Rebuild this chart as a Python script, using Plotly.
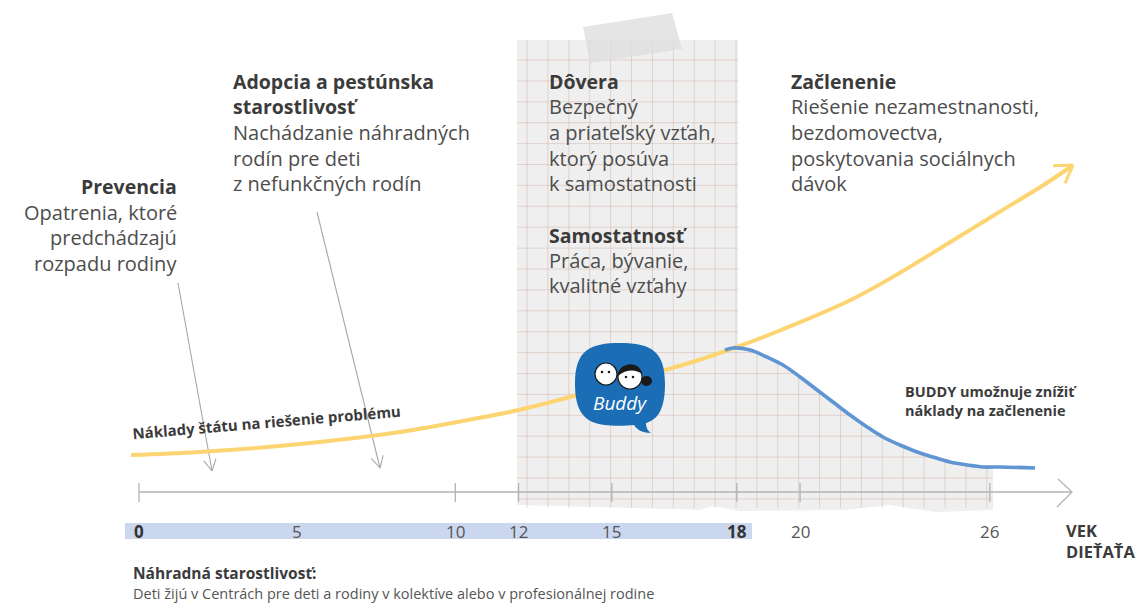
import numpy as np
import plotly.graph_objects as go

# ---------------- data ----------------
# state costs curve (age on the child's-age axis, cost index above the axis line)
YELLOW_AGE = [-0.25, 1.9, 5.1, 8.25, 10.4, 12.0, 14.1, 16.2, 17.7, 18.9, 20.3, 22.5, 24.1, 25.6, 27.2, 28.5, 29.5]
YELLOW_COST = [3.7, 4.0, 4.8, 6.0, 7.2, 8.2, 9.9, 11.8, 13.2, 14.5, 16.2, 19.2, 22.0, 24.9, 28.0, 30.5, 32.6]
# costs with BUDDY
BLUE_AGE = [18.53, 18.78, 19.32, 19.85, 20.36, 20.90, 21.44, 21.94, 22.48, 23.02, 23.52,
            24.06, 24.60, 25.10, 25.64, 26.18, 26.68, 27.22, 28.33]
BLUE_COST = [14.2, 14.4, 14.2, 13.5, 12.7, 11.5, 10.2, 9.0, 7.7, 6.5, 5.5,
             4.7, 4.0, 3.5, 3.0, 2.7, 2.5, 2.5, 2.4]
# axis ticks
AGE_TICKS = [0, 5, 10, 12, 15, 18, 20, 26]
AGE_TICK_POS = [0, 5, 10, 12, 14.95, 18.9, 20.9, 26.9]   # where each label sits on the drawn axis
TICKMARK_AGES = [0, 10, 12, 15, 18, 20, 26]
BOLD_TICKS = [0, 18]
AXIS_TITLE = "VEK<br>DIEŤAŤA"

# ---------------- geometry helpers ----------------
W, H = 1144, 603
PX_AGE0, PX_PER_YEAR = 139, 31.63
PY_AXIS, PY_PER_UNIT = 492, 10.0
def X(px): return (np.asarray(px, dtype=float) - PX_AGE0) / PX_PER_YEAR
def Y(py): return (PY_AXIS - np.asarray(py, dtype=float)) / PY_PER_UNIT
def PXa(a): return PX_AGE0 + np.asarray(a, dtype=float) * PX_PER_YEAR
def PYc(c): return PY_AXIS - np.asarray(c, dtype=float) * PY_PER_UNIT
tick_pos = dict(zip(AGE_TICKS, AGE_TICK_POS))

FONT = "Open Sans"
HEAD = "#3b3b3b"
BODY = "#4d4d4d"

fig = go.Figure()

# ---------------- squared paper (grid) region ----------------
bpx, bpy = PXa(BLUE_AGE), PYc(BLUE_COST)
GL, GR1, GR2, GT, GB = 517, 738, 993, 40, 508
def curve_py(px): return float(np.interp(px, bpx, bpy))
mask = bpx >= 733
fall_px, fall_py = bpx[mask], bpy[mask]
mid = [(x, y) for x, y in zip(bpx, bpy) if GR1 < x < GR2]
poly = [(GL, GT), (GR1, GT), (GR1, curve_py(GR1))] + mid + [(GR2, curve_py(GR2))]
poly += [(GR2, 510), (935, 512), (890, 505), (845, 510), (740, 511), (712, 506), (700, 510), (600, 507), (GL, 505), (GL, GT)]
fig.add_trace(go.Scatter(x=X([p[0] for p in poly]), y=Y([p[1] for p in poly]), mode="lines",
                         fill="toself", fillcolor="#efefef", line=dict(width=0), hoverinfo="skip"))
gx, gy = [], []
step = 20.9
for vx in np.arange(527, GR2, step):
    top = GT if vx <= GR1 else curve_py(vx) + 1
    gx += [vx, vx, None]; gy += [top, GB, None]
for hy in np.arange(60, GB, step):
    if hy <= curve_py(GR1):
        xe = GR1
    elif hy >= curve_py(GR2):
        xe = GR2
    else:
        xe = float(np.interp(hy, fall_py, fall_px)) - 1
    gx += [GL, xe, None]; gy += [hy, hy, None]
fig.add_trace(go.Scatter(x=[X(v) if v is not None else None for v in gx],
                         y=[Y(v) if v is not None else None for v in gy], mode="lines",
                         line=dict(color="rgba(195,160,140,0.40)", width=0.9), hoverinfo="skip"))
# tape
tape = [(583, 27), (672, 13), (682, 49), (590, 63), (583, 27)]
fig.add_trace(go.Scatter(x=X([p[0] for p in tape]), y=Y([p[1] for p in tape]), mode="lines",
                         fill="toself", fillcolor="rgba(222,222,222,0.8)", line=dict(width=0), hoverinfo="skip"))

# ---------------- age axis ----------------
ax_x, ax_y = [X(139), X(1072), None], [0, 0, None]
for a in TICKMARK_AGES:
    p = tick_pos[a]
    ax_x += [p, p, None]; ax_y += [Y(483), Y(502), None]
ax_x += [X(1058), X(1072), X(1057)]; ax_y += [Y(479), Y(492), Y(507)]
fig.add_trace(go.Scatter(x=ax_x, y=ax_y, mode="lines", line=dict(color="#b3b3b3", width=1.3), hoverinfo="skip"))

# ---------------- pointer arrows ----------------
def arrow(p0, p1, L=13, ang=28):
    d = np.array(p1, float) - np.array(p0, float)
    d /= np.linalg.norm(d)
    xs, ys = [p0[0], p1[0], None], [p0[1], p1[1], None]
    for s in (1, -1):
        t = np.radians(ang * s)
        r = np.array([d[0]*np.cos(t) - d[1]*np.sin(t), d[0]*np.sin(t) + d[1]*np.cos(t)])
        q = np.array(p1) - L * r
        xs += [q[0], p1[0], None]; ys += [q[1], p1[1], None]
    return xs, ys
px_, py_ = [], []
for a, b in [((178, 283), (212, 471)), ((317, 212), (380, 468))]:
    xs, ys = arrow(a, b)
    px_ += xs; py_ += ys
fig.add_trace(go.Scatter(x=[X(v) if v is not None else None for v in px_],
                         y=[Y(v) if v is not None else None for v in py_], mode="lines",
                         line=dict(color="#a6a6a6", width=1.1), hoverinfo="skip"))

# ---------------- curves ----------------
fig.add_trace(go.Scatter(x=YELLOW_AGE, y=YELLOW_COST, mode="lines",
                         line=dict(color="#fcd572", width=4, shape="spline"), hoverinfo="skip"))
ya = arrow((PXa(YELLOW_AGE[-2]), PYc(YELLOW_COST[-2])), (PXa(YELLOW_AGE[-1]) + 1, PYc(YELLOW_COST[-1]) - 1), L=20, ang=32)
fig.add_trace(go.Scatter(x=[X(v) if v is not None else None for v in ya[0][3:]],
                         y=[Y(v) if v is not None else None for v in ya[1][3:]], mode="lines",
                         line=dict(color="#fcd572", width=3), hoverinfo="skip"))
fig.add_trace(go.Scatter(x=BLUE_AGE, y=BLUE_COST, mode="lines",
                         line=dict(color="#5f95d3", width=3.6, shape="spline"), hoverinfo="skip"))

# ---------------- shapes (band, logo) ----------------
shapes = [dict(type="rect", xref="x", yref="y", x0=X(125), x1=X(752), y0=Y(523), y1=Y(539),
               fillcolor="rgba(160,182,226,0.55)", line=dict(width=0), layer="below")]
# BUDDY speech bubble
def P(px, py): return f"{X(px):.4f},{Y(py):.4f}"
bub = ("M " + P(575, 384) + " C " + P(575, 350) + " " + P(590, 343) + " " + P(620, 343)
       + " C " + P(652, 343) + " " + P(665, 352) + " " + P(665, 384)
       + " C " + P(665, 412) + " " + P(656, 420) + " " + P(646, 423)
       + " C " + P(646, 428) + " " + P(648, 431) + " " + P(651, 433)
       + " C " + P(643, 433) + " " + P(637, 430) + " " + P(634, 425)
       + " C " + P(626, 426) + " " + P(612, 426) + " " + P(605, 425)
       + " C " + P(585, 423) + " " + P(575, 412) + " " + P(575, 384) + " Z")
shapes.append(dict(type="path", xref="x", yref="y", path=bub, fillcolor="#1b6db5", line=dict(width=0)))
for cx, cy, r in [(606, 374, 11), (630, 377, 12)]:
    shapes.append(dict(type="circle", xref="x", yref="y", x0=X(cx - r), x1=X(cx + r), y0=Y(cy + r), y1=Y(cy - r),
                       fillcolor="white", line=dict(color="#1a1a1a", width=1.2)))
hair = ("M " + P(618, 376) + " C " + P(619, 362) + " " + P(640, 360) + " " + P(642, 374)
        + " C " + P(636, 369) + " " + P(626, 369) + " " + P(618, 376) + " Z")
shapes.append(dict(type="path", xref="x", yref="y", path=hair, fillcolor="#1a1a1a", line=dict(width=0)))
shapes.append(dict(type="circle", xref="x", yref="y", x0=X(641), x1=X(652), y0=Y(386), y1=Y(376),
                   fillcolor="#1a1a1a", line=dict(width=0)))
for ex, ey in [(602, 372), (609, 372), (626, 377), (633, 377)]:
    shapes.append(dict(type="circle", xref="x", yref="y", x0=X(ex - 1.3), x1=X(ex + 1.3), y0=Y(ey + 1.3), y1=Y(ey - 1.3),
                       fillcolor="#1a1a1a", line=dict(width=0)))

# ---------------- text ----------------
ann = []
def txt(s, px, py, size=20, bold=False, color=None, anchor="left", angle=0, style="normal"):
    ann.append(dict(x=float(X(px)), y=float(Y(py)), xref="x", yref="y", text=f"<b>{s}</b>" if bold else s,
                    showarrow=False, xanchor=anchor, yanchor="middle", textangle=angle, align=anchor if anchor != "center" else "center",
                    font=dict(family=FONT, size=size, color=color or (HEAD if bold else BODY), style=style)))

blocks = [
    (231, "left", [("Adopcia a pestúnska", True, 81), ("starostlivosť", True, 106), ("Nachádzanie náhradných", False, 132),
                   ("rodín pre deti", False, 158), ("z nefunkčných rodín", False, 183)]),
    (179, "right", [("Prevencia", True, 186), ("Opatrenia, ktoré", False, 212), ("predchádzajú", False, 237),
                    ("rozpadu rodiny", False, 263)]),
    (547, "left", [("Dôvera", True, 81), ("Bezpečný", False, 106), ("a priateľský vzťah,", False, 132),
                   ("ktorý posúva", False, 158), ("k samostatnosti", False, 183), ("Samostatnosť", True, 235),
                   ("Práca, bývanie,", False, 260), ("kvalitné vzťahy", False, 285)]),
    (789, "left", [("Začlenenie", True, 81), ("Riešenie nezamestnanosti,", False, 106), ("bezdomovectva,", False, 132),
                   ("poskytovania sociálnych", False, 158), ("dávok", False, 183)]),
]
for bx, anc, lines in blocks:
    for s, b, yy in lines:
        txt(s, bx, yy, 19.5 if b else 20, b, anchor=anc)

txt("BUDDY umožnuje znížiť", 903, 391, 14.5, True)
txt("náklady na začlenenie", 903, 410, 14.5, True)
txt("Náklady štátu na riešenie problému", 266, 422, 15, True, anchor="center", angle=-4.8)
txt("Buddy", 620, 403, 19, False, color="white", anchor="center", style="italic")

for a in AGE_TICKS:
    ann.append(dict(x=tick_pos[a], y=float(Y(531)), xref="x", yref="y",
                    text=f"<b>{a}</b>" if a in BOLD_TICKS else str(a), showarrow=False,
                    xanchor="center", yanchor="middle",
                    font=dict(family=FONT, size=17, color="#333" if a in BOLD_TICKS else "#555")))
txt(AXIS_TITLE, 1064, 541, 16.5, True)
txt("Náhradná starostlivosť:", 131, 573, 15.5, True)
txt("Deti žijú v Centrách pre deti a rodiny v kolektíve alebo v profesionálnej rodine", 131, 593.5, 14.5, False, color="#555")

fig.update_layout(
    width=W, height=H, margin=dict(l=0, r=0, t=0, b=0),
    paper_bgcolor="white", plot_bgcolor="white", showlegend=False,
    xaxis=dict(range=[float(X(0)), float(X(W))], visible=False, fixedrange=True),
    yaxis=dict(range=[float(Y(H)), float(Y(0))], visible=False, fixedrange=True),
    shapes=shapes, annotations=ann,
)
fig.write_html("out.html", config={"displayModeBar": False},
               post_script="document.body.style.margin='0';document.body.style.overflow='hidden';")
